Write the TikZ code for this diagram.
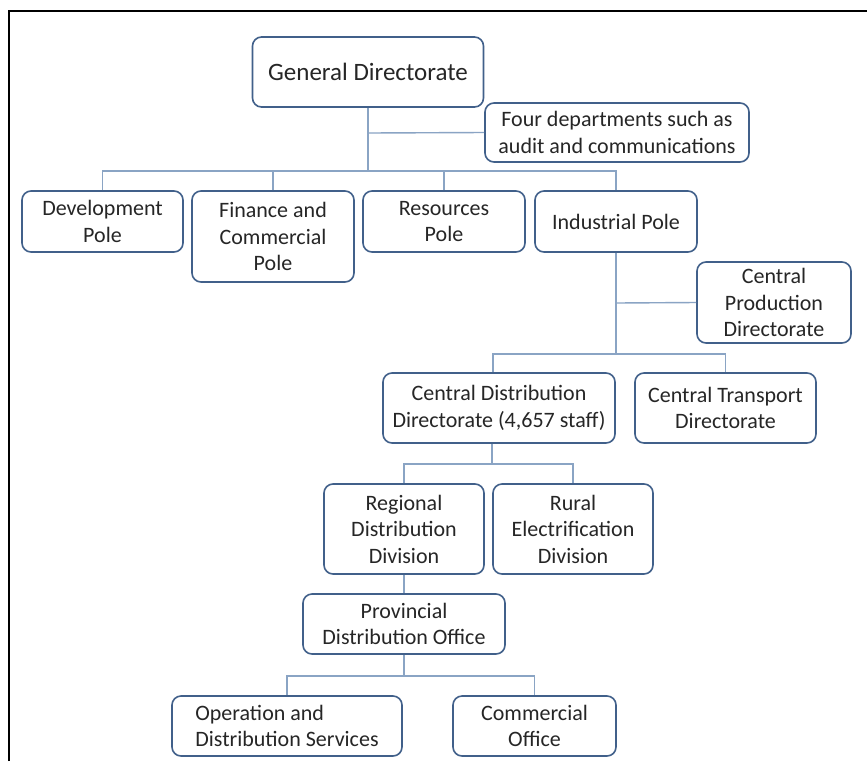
\documentclass[tikz,border=0pt]{standalone}
\usepackage{fontspec}
\setmainfont{Carlito}
\definecolor{boxline}{HTML}{41608A}
\definecolor{conn}{HTML}{8AA4C4}
\begin{document}
\begin{tikzpicture}[x=1pt,y=-1pt,
  box/.style={draw=boxline,line width=1.6pt,rounded corners=9pt,fill=white,
    align=center,inner sep=2pt,font=\fontsize{22}{26.5}\selectfont,text=black!85},
  cn/.style={draw=conn,line width=1.4pt}]
\useasboundingbox (0,0) rectangle (867,761);
\fill[white] (0,0) rectangle (867,761);
\draw[line width=1.8pt] (9,761) -- (9,11) -- (867,11);
% nodes
\node[box,minimum width=231pt,minimum height=70pt,font=\fontsize{25}{30}\selectfont] (gd) at (368,72) {General Directorate};
\node[box,minimum width=264pt,minimum height=59pt] (fd) at (617,132.5) {Four departments such as\\audit and communications};
\node[box,minimum width=161pt,minimum height=61pt] (dp) at (102.5,221.5) {Development\\Pole};
\node[box,minimum width=162pt,minimum height=91pt] (fcp) at (273,236.5) {Finance and\\Commercial\\Pole};
\node[box,minimum width=162pt,minimum height=61pt] (rp) at (444,221.5) {Resources\\Pole};
\node[box,minimum width=162pt,minimum height=61pt] (ip) at (616,221.5) {Industrial Pole};
\node[box,minimum width=154pt,minimum height=81pt] (cpd) at (774,302.5) {Central\\Production\\Directorate};
\node[box,minimum width=232pt,minimum height=70pt] (cdd) at (499,408) {Central Distribution\\Directorate (4,657 staff)};
\node[box,minimum width=181pt,minimum height=70pt] (ctd) at (725.5,408) {Central Transport\\Directorate};
\node[box,minimum width=160pt,minimum height=90pt] (rdd) at (404,529) {Regional\\Distribution\\Division};
\node[box,minimum width=160pt,minimum height=90pt] (red) at (573,529) {Rural\\Electrification\\Division};
\node[box,minimum width=202pt,minimum height=60pt] (pdo) at (404,624) {Provincial\\Distribution Office};
\node[box,minimum width=230pt,minimum height=60pt,align=left] (ods) at (287,726) {Operation and\\Distribution Services};
\node[box,minimum width=163pt,minimum height=60pt] (co) at (534.5,726) {Commercial\\Office};
% junction coordinates
\coordinate (b1) at (368,171);
\coordinate (j1) at (368,133);
\coordinate (b2) at (616,354);
\coordinate (j2) at (616,303);
\coordinate (b3) at (492,464);
\coordinate (b4) at (404,676);
% connectors
\draw[cn] (gd.south) -- (b1);
\draw[cn] (fd.west) -- (j1);
\draw[cn] (dp.north) |- (b1) -| (ip.north);
\draw[cn] (fcp.north) -- (fcp.north |- b1);
\draw[cn] (rp.north) -- (rp.north |- b1);
\draw[cn] (ip.south) -- (b2);
\draw[cn] (cpd.west) -- (j2);
\draw[cn] ([xshift=-6pt]cdd.north) |- (b2) -| (ctd.north);
\draw[cn] ([xshift=-7pt]cdd.south) -- (b3);
\draw[cn] (rdd.north) |- (b3) -| (red.north);
\draw[cn] (rdd.south) -- (pdo.north);
\draw[cn] (pdo.south) -- (b4);
\draw[cn] (ods.north) |- (b4) -| (co.north);
\end{tikzpicture}
\end{document}
